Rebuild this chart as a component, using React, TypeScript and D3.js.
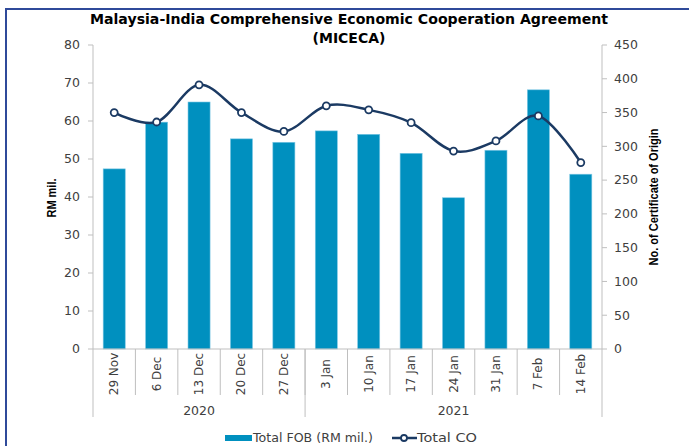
import React from "react";
import * as d3 from "d3";

const categories = ["29 Nov", "6 Dec", "13 Dec", "20 Dec", "27 Dec", "3 Jan", "10 Jan", "17 Jan", "24 Jan", "31 Jan", "7 Feb", "14 Feb"];
const years = ["2020", "2020", "2020", "2020", "2020", "2021", "2021", "2021", "2021", "2021", "2021", "2021"];
const fobValues = [47.4, 59.7, 65.0, 55.3, 54.4, 57.4, 56.5, 51.5, 39.8, 52.3, 68.2, 46.0];
const coValues = [350, 336, 391, 350, 322, 360, 354, 335, 293, 308, 345, 276];
const leftTicks = [0, 10, 20, 30, 40, 50, 60, 70, 80];
const rightTicks = [0, 50, 100, 150, 200, 250, 300, 350, 400, 450];

const FONT = "'Century Gothic', 'DejaVu Sans', sans-serif";
const NARROW = "'Liberation Sans Narrow', 'Liberation Sans', Arial, sans-serif";
const TEXT = "#404040";
const AXIS = "#bfbfbf";
const BAR = "#0090bf";
const LINE = "#1b3a63";

export default function App() {
  const W = 689, H = 446;
  const left = 93, right = 602, top = 45, bottom = 349;

  const x = d3.scaleBand<string>().domain(categories).range([left, right]).paddingInner(0.48).paddingOuter(0.24);
  const xb = d3.scaleBand<string>().domain(categories).range([left, right]);
  const yL = d3.scaleLinear().domain([0, 80]).range([bottom, top]);
  const yR = d3.scaleLinear().domain([0, 450]).range([bottom, top]);

  const linePath = d3.line<number>()
    .x((_, i) => (xb(categories[i]) as number) + xb.bandwidth() / 2)
    .y((d) => yR(d))
    .curve(d3.curveCardinal.tension(0))(coValues) as string;

  const groups: { year: string; start: number; end: number }[] = [];
  years.forEach((yv, i) => {
    const g = groups[groups.length - 1];
    if (g && g.year === yv) g.end = i;
    else groups.push({ year: yv, start: i, end: i });
  });

  return (
    <svg width={W} height={H} style={{ position: "absolute", left: 0, top: 0, background: "#fff" }} fontFamily={FONT}>
      <rect x={6} y={9} width={720} height={480} fill="#fff" stroke="#2f4a9a" strokeWidth={2} />
      <text x={349} y={24} textAnchor="middle" fontWeight="bold" fontSize={14} fill="#000" textLength={518} lengthAdjust="spacingAndGlyphs">Malaysia-India Comprehensive Economic Cooperation Agreement</text>
      <text x={349} y={43} textAnchor="middle" fontWeight="bold" fontSize={14} fill="#000">(MICECA)</text>

      {fobValues.map((v, i) => (
        <rect key={i} x={x(categories[i])} y={yL(v)} width={x.bandwidth()} height={bottom - yL(v)} fill={BAR} stroke="#7cc7e4" strokeWidth={0.6} />
      ))}

      <line x1={left} x2={left} y1={top} y2={bottom} stroke={AXIS} strokeWidth={1} />
      {leftTicks.map((t) => (
        <g key={t}>
          <line x1={left - 5} x2={left} y1={yL(t)} y2={yL(t)} stroke={AXIS} />
          <text x={80} y={yL(t)} dy="0.35em" textAnchor="end" fontSize={12.5} fill={TEXT}>{t}</text>
        </g>
      ))}
      <text transform={`translate(56,198) rotate(-90)`} textAnchor="middle" fontWeight="bold" fontSize={13.5} fill="#000" fontFamily={NARROW} textLength={39} lengthAdjust="spacingAndGlyphs">RM mil.</text>

      <line x1={right} x2={right} y1={top} y2={bottom} stroke={AXIS} strokeWidth={1} />
      {rightTicks.map((t) => (
        <g key={t}>
          <line x1={right} x2={right + 5} y1={yR(t)} y2={yR(t)} stroke={AXIS} />
          <text x={614} y={yR(t)} dy="0.35em" textAnchor="start" fontSize={12.5} fill={TEXT}>{t}</text>
        </g>
      ))}
      <text transform={`translate(658,197) rotate(-90)`} textAnchor="middle" fontWeight="bold" fontSize={13.5} fill="#000" fontFamily={NARROW} textLength={137} lengthAdjust="spacingAndGlyphs">No. of Certificate of Origin</text>

      <line x1={left} x2={right} y1={bottom} y2={bottom} stroke={AXIS} />
      {categories.map((c, i) => {
        const x0 = xb(c) as number;
        return (
          <g key={c}>
            {i > 0 && <line x1={x0} x2={x0} y1={bottom} y2={395} stroke={AXIS} />}
            <text transform={`translate(${x0 + xb.bandwidth() / 2 + 4},374) rotate(-90)`} textAnchor="middle" fontSize={12} fill={TEXT}>{c}</text>
          </g>
        );
      })}
      {groups.map((g, i) => {
        const x0 = xb(categories[g.start]) as number;
        const x1 = (xb(categories[g.end]) as number) + xb.bandwidth();
        return (
          <g key={g.year}>
            {i === 0 && <line x1={x0} x2={x0} y1={bottom} y2={417} stroke={AXIS} />}
            <line x1={x1} x2={x1} y1={bottom} y2={417} stroke={AXIS} />
            <text x={(x0 + x1) / 2} y={411} dy="0.35em" textAnchor="middle" fontSize={12.5} fill={TEXT}>{g.year}</text>
          </g>
        );
      })}

      <path d={linePath} fill="none" stroke={LINE} strokeWidth={2.5} />
      {coValues.map((v, i) => (
        <circle key={i} cx={(xb(categories[i]) as number) + xb.bandwidth() / 2} cy={yR(v)} r={3.5} fill="#fff" stroke={LINE} strokeWidth={1.8} />
      ))}

      <rect x={225} y={435} width={27} height={6} fill={BAR} />
      <text x={253} y={438} dy="0.35em" fontSize={12.5} fill={TEXT} textLength={120} lengthAdjust="spacingAndGlyphs">Total FOB (RM mil.)</text>
      <line x1={392} x2={417} y1={438} y2={438} stroke={LINE} strokeWidth={2.5} />
      <circle cx={404} cy={438} r={3} fill="#fff" stroke={LINE} strokeWidth={1.8} />
      <text x={417} y={438} dy="0.35em" fontSize={12.5} fill={TEXT} textLength={60} lengthAdjust="spacingAndGlyphs">Total CO</text>
    </svg>
  );
}
